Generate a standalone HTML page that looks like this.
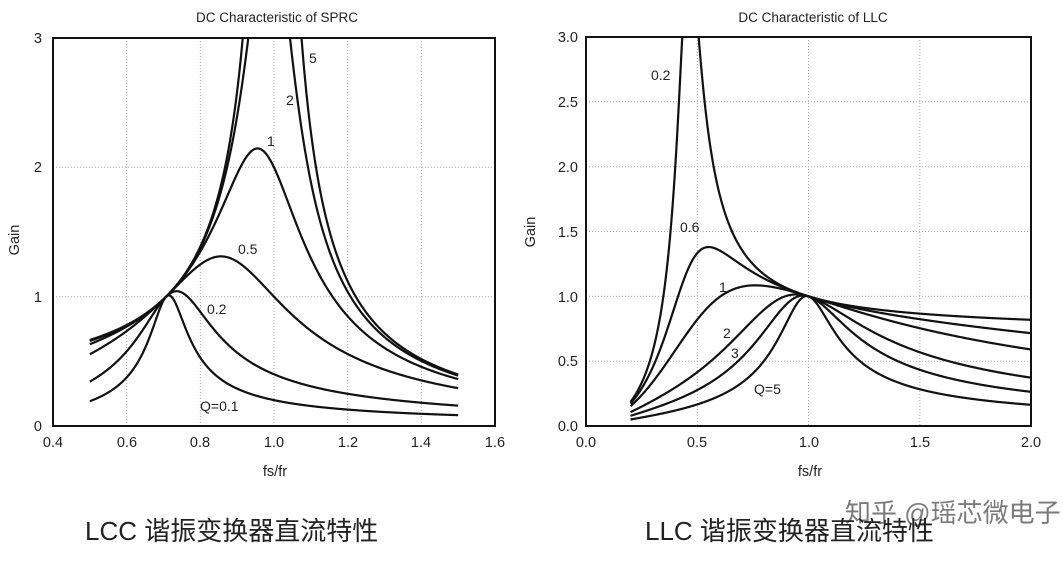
<!DOCTYPE html>
<html><head><meta charset="utf-8"><style>
html,body{margin:0;padding:0;background:#fff;}
svg{display:block;}
text{font-family:"Liberation Sans",sans-serif;fill:#222;}
.cn{font-family:"Liberation Sans","Noto Sans CJK SC",sans-serif;}
</style></head><body>
<svg id="s" width="1063" height="561" viewBox="0 0 1063 561" xmlns="http://www.w3.org/2000/svg">
<defs>
<clipPath id="cl"><rect x="53" y="38" width="442" height="388"/></clipPath>
<clipPath id="cr"><rect x="586" y="37" width="445" height="389"/></clipPath>
</defs>
<g stroke="#aaa" stroke-width="1" stroke-dasharray="1,2">
<line x1="126.7" y1="38" x2="126.7" y2="426"/><line x1="200.3" y1="38" x2="200.3" y2="426"/>
<line x1="274" y1="38" x2="274" y2="426"/><line x1="347.7" y1="38" x2="347.7" y2="426"/>
<line x1="421.3" y1="38" x2="421.3" y2="426"/>
<line x1="53" y1="296.7" x2="495" y2="296.7"/><line x1="53" y1="167.3" x2="495" y2="167.3"/>
<line x1="697.3" y1="37" x2="697.3" y2="426"/><line x1="808.5" y1="37" x2="808.5" y2="426"/>
<line x1="919.8" y1="37" x2="919.8" y2="426"/>
<line x1="586" y1="361.2" x2="1031" y2="361.2"/><line x1="586" y1="296.3" x2="1031" y2="296.3"/>
<line x1="586" y1="231.5" x2="1031" y2="231.5"/><line x1="586" y1="166.7" x2="1031" y2="166.7"/>
<line x1="586" y1="101.8" x2="1031" y2="101.8"/>
</g>
<g id="L" clip-path="url(#cl)" fill="none" stroke="#111" stroke-width="2.2"></g>
<g id="R" clip-path="url(#cr)" fill="none" stroke="#111" stroke-width="2.2"></g>
<rect x="53" y="38" width="442" height="388" fill="none" stroke="#111" stroke-width="2"/>
<rect x="586" y="37" width="445" height="389" fill="none" stroke="#111" stroke-width="2"/>
<g font-size="13.5">
<text x="277" y="22" text-anchor="middle">DC Characteristic of SPRC</text>
<text x="813" y="22" text-anchor="middle">DC Characteristic of LLC</text>
</g>
<g font-size="14.5" text-anchor="end">
<text x="42" y="43">3</text><text x="42" y="172">2</text><text x="42" y="302">1</text><text x="42" y="431">0</text>
<text x="578" y="42">3.0</text><text x="578" y="107">2.5</text><text x="578" y="172">2.0</text>
<text x="578" y="237">1.5</text><text x="578" y="302">1.0</text><text x="578" y="366">0.5</text><text x="578" y="431">0.0</text>
</g>
<g font-size="14.5" text-anchor="middle">
<text x="53" y="447">0.4</text><text x="127" y="447">0.6</text><text x="200" y="447">0.8</text><text x="274" y="447">1.0</text>
<text x="348" y="447">1.2</text><text x="421" y="447">1.4</text><text x="495" y="447">1.6</text>
<text x="586" y="447">0.0</text><text x="697" y="447">0.5</text><text x="809" y="447">1.0</text>
<text x="920" y="447">1.5</text><text x="1031" y="447">2.0</text>
<text x="275" y="476">fs/fr</text><text x="810" y="476">fs/fr</text>
</g>
<text font-size="14.5" transform="translate(19,240) rotate(-90)" text-anchor="middle">Gain</text>
<text font-size="14.5" transform="translate(535,232) rotate(-90)" text-anchor="middle">Gain</text>
<g font-size="14">
<text x="309" y="63">5</text><text x="286" y="105">2</text><text x="267" y="146">1</text>
<text x="238" y="254">0.5</text><text x="207" y="314">0.2</text><text x="200" y="411">Q=0.1</text>
<text x="651" y="80">0.2</text><text x="680" y="232">0.6</text><text x="719" y="292">1</text>
<text x="723" y="338">2</text><text x="731" y="358">3</text><text x="754" y="394">Q=5</text>
</g>
<text class="cn" x="85" y="540" font-size="26" fill="#111">LCC 谐振变换器直流特性</text>
<text class="cn" x="645" y="540" font-size="26" fill="#111">LLC 谐振变换器直流特性</text>
<text class="cn" x="845" y="522" font-size="26" fill="#999" opacity="0.6">知乎 @瑶芯微电子</text>
</svg>
<script>
function cabs(re,im){return Math.sqrt(re*re+im*im);}
function lcc(x,Q){
  var zs=x-1/(2*x);
  var re=1-2*x*zs, im=zs/Q;
  return 1/cabs(re,im);
}
function llc(x,Q){var Ln=3.8,k=0.8;
  var a=1+(1-1/(x*x))/Ln, b=k*Q*(x-1/x);return 1/Math.sqrt(a*a+b*b);}
function path(f,Q,x0,x1,X,Y){var d="",n=600;
  for(var i=0;i<=n;i++){var x=x0+(x1-x0)*i/n;var g=Math.min(f(x,Q),4);
    d+=(i?"L":"M")+X(x).toFixed(2)+","+Y(g).toFixed(2);}return d;}
var ns="http://www.w3.org/2000/svg";
function add(id,d){var p=document.createElementNS(ns,"path");p.setAttribute("d",d);document.getElementById(id).appendChild(p);}
[0.1,0.2,0.5,1,2,5].forEach(function(Q){add("L",path(lcc,Q,0.5,1.5,function(x){return 53+(x-0.4)*368.33;},function(g){return 426-g*129.33;}));});
[0.2,0.6,1,2,3,5].forEach(function(Q){add("R",path(llc,Q,0.2,2,function(x){return 586+x*222.5;},function(g){return 426-g*129.67;}));});
</script>
</body></html>
